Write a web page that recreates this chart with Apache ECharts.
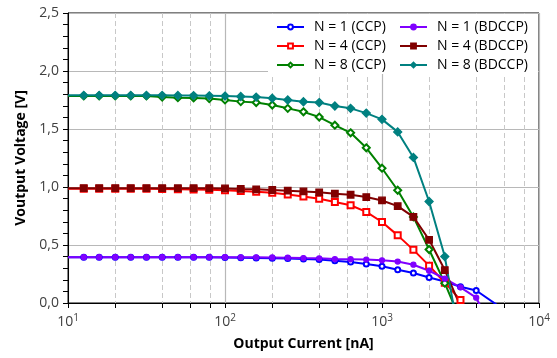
<!DOCTYPE html>
<html>
<head>
<meta charset="utf-8">
<script src="https://cdn.jsdelivr.net/npm/echarts@6/dist/echarts.min.js"></script>
<style>
    html, body { margin: 0; padding: 0; background: #fff; }
    #chart { width: 557px; height: 358px; }
</style>
</head>
<body>
<div id="chart"></div>
<script>
// output current [nA], same for every curve (0.1 decade steps)
var current = [10, 12.6, 15.8, 20, 25.1, 31.6, 39.8, 50.1, 63.1, 79.4,
    100, 126, 158, 200, 251, 316, 398, 501, 631, 794,
    1000, 1259, 1585, 1995, 2512, 3162, 3981, 5012, 6310];

var n1ccp = [0.394, 0.394, 0.394, 0.394, 0.394, 0.394, 0.394, 0.394, 0.394, 0.394,
    0.392, 0.390, 0.388, 0.386, 0.383, 0.380, 0.374, 0.365, 0.354, 0.336,
    0.316, 0.287, 0.258, 0.220, 0.185, 0.140, 0.108, null, -0.08];
var n4ccp = [0.985, 0.985, 0.985, 0.985, 0.985, 0.985, 0.982, 0.980, 0.978, 0.976,
    0.972, 0.966, 0.960, 0.951, 0.936, 0.918, 0.898, 0.870, 0.843, 0.785,
    0.698, 0.583, 0.458, 0.322, 0.175, 0.025];
var n8ccp = [1.785, 1.785, 1.785, 1.785, 1.785, 1.785, 1.775, 1.770, 1.768, 1.762,
    1.751, 1.736, 1.728, 1.707, 1.678, 1.648, 1.603, 1.533, 1.467, 1.338,
    1.162, 0.972, 0.742, 0.461, 0.171, -0.15];
var n1bd = [0.395, 0.395, 0.395, 0.395, 0.395, 0.395, 0.395, 0.395, 0.395, 0.395,
    0.395, 0.394, 0.394, 0.393, 0.391, 0.387, 0.385, 0.379, 0.377, 0.374,
    0.368, 0.357, 0.330, 0.278, 0.210, 0.135, 0.046, -0.22];
var n4bd = [0.990, 0.990, 0.990, 0.990, 0.990, 0.990, 0.990, 0.990, 0.990, 0.990,
    0.988, 0.983, 0.980, 0.974, 0.968, 0.962, 0.954, 0.942, 0.933, 0.913,
    0.884, 0.835, 0.742, 0.545, 0.284, -0.03];
var n8bd = [1.790, 1.790, 1.790, 1.790, 1.790, 1.790, 1.790, 1.789, 1.788, 1.786,
    1.784, 1.780, 1.775, 1.765, 1.750, 1.735, 1.728, 1.698, 1.678, 1.637,
    1.583, 1.475, 1.255, 0.875, 0.400, -0.36];

var minorGrid = [20, 40, 60, 80, 200, 400, 600, 800, 2000, 4000, 6000, 8000];

var FONT = 'Open Sans';

function pairs(vals) {
    var out = [];
    for (var i = 0; i < vals.length; i++) {
        var item = { value: [current[i], vals[i]] };
        if (i === 0) item.symbol = 'none';
        out.push(item);
    }
    return out;
}

function mk(name, vals, color, symbol, size) {
    return {
        name: name,
        type: 'line',
        data: pairs(vals),
        connectNulls: true,
        clip: true,
        color: color,
        symbol: symbol,
        symbolSize: size,
        showAllSymbol: true,
        lineStyle: { width: 2, color: color },
        itemStyle: { color: color, borderColor: color, borderWidth: 1.3 },
        emphasis: { disabled: true },
        animation: false
    };
}

var legendCommon = {
    orient: 'vertical',
    top: 15,
    itemWidth: 27,
    itemHeight: 6,
    itemGap: 5,
    z: 5,
    textStyle: { fontFamily: FONT, fontSize: 14, color: '#000', padding: [0, 0, 0, 5] }
};

var chart = echarts.init(document.getElementById('chart'));
chart.setOption({
    backgroundColor: '#fff',
    animation: false,
    grid: {
        left: 68, right: 18, top: 13, bottom: 55,
        show: true, borderColor: '#000', borderWidth: 1
    },
    xAxis: [{
        type: 'log',
        logBase: 10,
        min: 10,
        max: 10000,
        axisLine: { show: true, onZero: false, lineStyle: { color: '#000', width: 1 } },
        axisTick: { show: true, length: 5, lineStyle: { color: '#000' } },
        axisLabel: {
            color: '#404040',
            fontFamily: FONT,
            fontSize: 14,
            margin: 10,
            formatter: function (v) {
                return '10{s|' + Math.round(Math.log10(v)) + '}';
            },
            rich: { s: { fontSize: 10, fontFamily: FONT, color: '#404040', padding: [0, 0, 9, 0] } }
        },
        splitLine: { show: true, lineStyle: { color: '#b8b8b8', width: 1.2 } },
        name: 'Output Current [nA]',
        nameLocation: 'middle',
        nameGap: 34,
        nameTextStyle: { fontFamily: FONT, fontWeight: 'bold', fontSize: 14, color: '#000' }
    }, {
        type: 'log',
        logBase: 10,
        min: 10,
        max: 10000,
        position: 'bottom',
        axisLine: { show: false },
        axisTick: { show: true, length: 5, customValues: minorGrid, lineStyle: { color: '#000' } },
        axisLabel: { show: false },
        splitLine: { show: true, lineStyle: { color: '#c8c8c8', width: 1, type: [5, 3] } }
    }],
    yAxis: {
        type: 'value',
        min: 0,
        max: 2.5,
        interval: 0.5,
        axisLine: { show: true, lineStyle: { color: '#000', width: 1 } },
        axisTick: { show: true, length: 5, lineStyle: { color: '#000' } },
        minorTick: { show: true, splitNumber: 5, length: 5, lineStyle: { color: '#000' } },
        axisLabel: {
            color: '#404040',
            fontFamily: FONT,
            fontSize: 14,
            margin: 9,
            formatter: function (v) { return v.toFixed(1).replace('.', ','); }
        },
        splitLine: { show: true, lineStyle: { color: '#b8b8b8', width: 1.2 } },
        name: 'Voutput Voltage [V]',
        nameLocation: 'middle',
        nameGap: 38,
        nameTextStyle: { fontFamily: FONT, fontWeight: 'bold', fontSize: 14, color: '#000' }
    },
    graphic: [{
        type: 'rect',
        z: 3,
        shape: { x: 268, y: 14, width: 270, height: 60 },
        style: { fill: '#fff', stroke: null }
    }],
    legend: [
        Object.assign({ left: 271, data: ['N = 1 (CCP)', 'N = 4 (CCP)', 'N = 8 (CCP)'] }, legendCommon),
        Object.assign({ left: 394, data: ['N = 1 (BDCCP)', 'N = 4 (BDCCP)', 'N = 8 (BDCCP)'] }, legendCommon)
    ],
    series: [
        mk('N = 1 (CCP)', n1ccp, '#0000ff', 'emptyCircle', 5),
        mk('N = 4 (CCP)', n4ccp, '#ff0000', 'emptyRect', 6),
        mk('N = 8 (CCP)', n8ccp, '#008000', 'emptyDiamond', 7),
        mk('N = 1 (BDCCP)', n1bd, '#8000ff', 'circle', 5),
        mk('N = 4 (BDCCP)', n4bd, '#800000', 'rect', 6.5),
        mk('N = 8 (BDCCP)', n8bd, '#008080', 'diamond', 8)
    ]
});
</script>
</body>
</html>
